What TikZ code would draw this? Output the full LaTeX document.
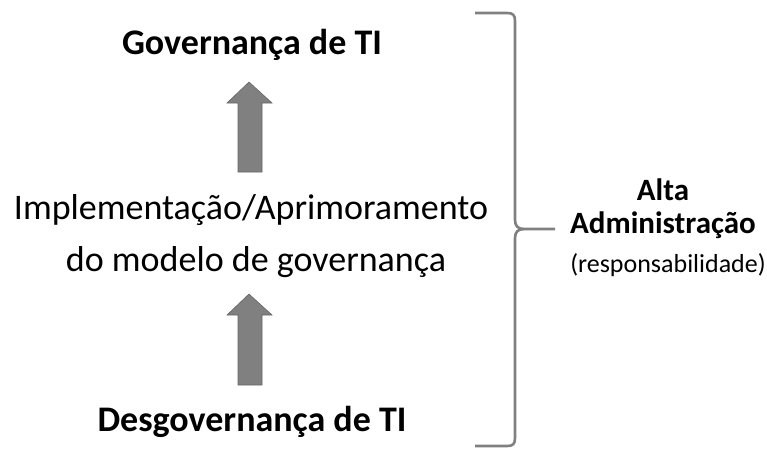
\documentclass[tikz,border=0pt]{standalone}
\usepackage{fontspec}
\setmainfont{Carlito}
\begin{document}
\begin{tikzpicture}[x=1pt,y=-1pt,
  txt/.style={font=\fontsize{36}{40}\selectfont, inner sep=0pt, anchor=center},
  btxt/.style={font=\bfseries\fontsize{36}{40}\selectfont, inner sep=0pt, anchor=center},
  side/.style={font=\bfseries\fontsize{31}{34}\selectfont, inner sep=0pt, anchor=center},
  sidesm/.style={font=\fontsize{26}{29}\selectfont, inner sep=0pt, anchor=center},
  uparrow/.style={fill=black!50, draw=black!60, line width=0.6pt, line join=miter},
  bracestyle/.style={draw=black!50, line width=2.6pt}]
\useasboundingbox (0,0) rectangle (767,456);
\node[btxt] (gov) at (252,45) {Governança de TI};
\node[txt] (impl1) at (251,210) {Implementação/Aprimoramento};
\node[txt] (impl2) at (256,262) {do modelo de governança};
\node[btxt] (desg) at (252,422) {Desgovernança de TI};
\node[side] (alta1) at (663,190) {Alta};
\node[side] (alta2) at (663,225) {Administração};
\node[sidesm] (resp) at (668,265) {(responsabilidade)};
% arrows
\path[uparrow] (249,82) -- (272,103) -- (262,103) -- (262,172) -- (238,172) -- (238,103) -- (227,103) -- cycle;
\path[uparrow] (249,294) -- (272,315) -- (262,315) -- (262,385) -- (238,385) -- (238,315) -- (227,315) -- cycle;
% brace
\coordinate (btop) at (475,13);
\coordinate (bbot) at (475,446);
\coordinate (btip) at (555,229);
\draw[bracestyle] (btop) -- (507,13) .. controls (513,13) and (515,15) .. (515,21)
  -- (515,220) .. controls (515,226) and (518,229) .. (524,229) -- (btip);
\draw[bracestyle] (524,229) .. controls (518,229) and (515,232) .. (515,238)
  -- (515,438) .. controls (515,444) and (513,446) .. (507,446) -- (bbot);
\end{tikzpicture}
\end{document}
